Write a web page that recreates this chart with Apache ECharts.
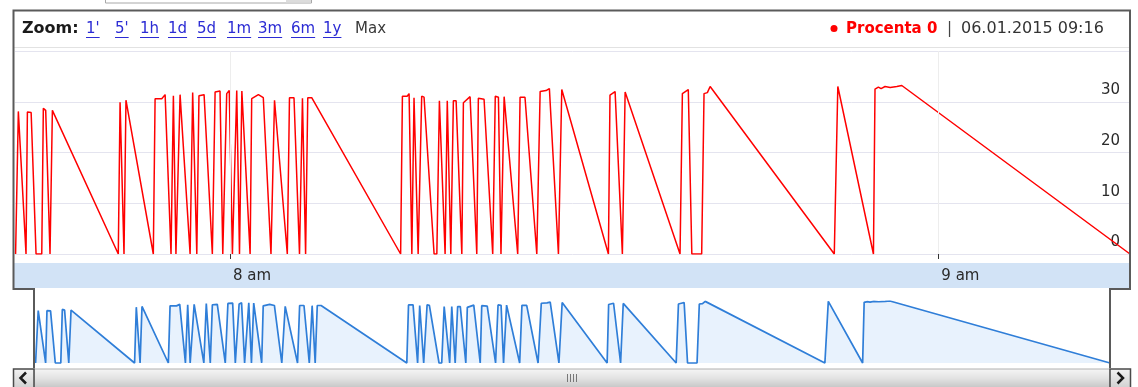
<!DOCTYPE html>
<html><head><meta charset="utf-8">
<script src="https://cdn.jsdelivr.net/npm/echarts@6/dist/echarts.min.js"></script>
<style>html,body{margin:0;padding:0;background:#fff;overflow:hidden}#c{width:1138px;height:387px}</style>
</head><body><div id="c"></div>
<script>
// ---- data ----
const times = ['07:41:50','07:42:04','07:42:43','07:42:50','07:43:09','07:43:34','07:44:03','07:44:11','07:44:23','07:44:45',
'07:44:57','07:45:07','07:50:32','07:50:41','07:51:01','07:51:11','07:53:30','07:53:39','07:54:13','07:54:30',
'07:54:38','07:55:00','07:55:12','07:55:25','07:55:46','07:56:37','07:56:50','07:57:11','07:57:22','07:57:48',
'07:58:30','07:58:44','07:59:09','07:59:23','07:59:43','07:59:56','08:00:12','08:00:34','08:00:48','08:01:00',
'08:01:42','08:01:50','08:02:24','08:02:49','08:03:28','08:03:46','08:04:51','08:05:02','08:05:25','08:05:53',
'08:06:08','08:06:24','08:06:35','08:06:55','08:14:27','08:14:36','08:15:00','08:15:10','08:15:24','08:15:35',
'08:15:56','08:16:14','08:16:26','08:17:17','08:17:31','08:17:44','08:18:13','08:18:24','08:18:42','08:18:55',
'08:19:09','08:19:38','08:19:46','08:20:20','08:20:25','08:20:54','08:21:02','08:21:31','08:22:15','08:22:28',
'08:22:44','08:22:57','08:23:13','08:24:22','08:24:34','08:24:59','08:25:59','08:26:16','08:26:46','08:27:03',
'08:27:49','08:28:06','08:32:03','08:32:11','08:32:37','08:33:14','08:33:28','08:38:07','08:38:19','08:38:49',
'08:39:07','08:39:57','08:40:09','08:40:26','08:40:40','08:51:11','08:51:29','08:51:38','08:54:30','08:54:38',
'08:54:55','08:55:09','08:55:29','08:55:55','08:56:29','08:56:54','09:16:14'];
const values = [0,28.1,0,28,27.9,0,0,28.7,28.3,0,
28.3,28.6,0,29.9,0,30.3,0,30.6,30.6,31.4,
31.2,0,31.2,0,31.4,0,31.8,0,31.2,31.4,
0,31.9,32.1,0,31.6,32.2,0,32.2,0,32.1,
0,30.6,31.4,30.8,0,30.3,0,30.8,30.8,0,
30.7,0,30.8,30.8,0,31.1,31.1,31.6,0,30.8,
0,31.1,30.9,0,0,30.2,0,30.2,0,30.2,
30.2,0,29.8,31,30.8,0,30.7,30.5,0,31.1,
30.9,0,31.0,0,30.9,30.9,0,32.0,32.2,32.6,
0,32.4,0,31.3,32.0,0,31.9,0,31.6,32.4,
0,0,31.6,31.8,33.0,0,33.0,32.7,0,32.5,
32.9,32.6,33.0,32.8,33.0,33.2,0];
const xRange = ['07:41:47', '09:16:14'];
const xTickTimes = ['08:00:00', '09:00:00'];
const xTickLabels = ['8 am', '9 am'];
const yMin = 0, yMax = 40, yStep = 10;
const zoomLabel = 'Zoom:';
const zoomButtons = ["1'", "5'", '1h', '1d', '5d', '1m', '3m', '6m', '1y', 'Max'];
const seriesName = 'Procenta';
const legendValue = '0';
const legendDate = '06.01.2015 09:16';

// ---- helpers: time of day -> seconds since midnight ----
function ts(t) { const p = t.split(':').map(Number); return p[0] * 3600 + p[1] * 60 + p[2]; }
const data = times.map((t, i) => [ts(t), values[i]]);
const tickVals = xTickTimes.map(ts);
const FONT = '"DejaVu Sans", Verdana, sans-serif';
const mctx = document.createElement('canvas').getContext('2d');
function tw(text, font) { mctx.font = font; return mctx.measureText(text).width; }

const chart = echarts.init(document.getElementById('c'), null, { renderer: 'canvas' });

// ---- decorations (frame, toolbar, scrollbar) ----
const g = [];
g.push({ type: 'rect', shape: { x: 105.5, y: -6, width: 206, height: 9 }, style: { fill: '#fff', stroke: '#a8a8a8', lineWidth: 1 }, z: 50 });
g.push({ type: 'rect', shape: { x: 286, y: -6, width: 25, height: 8.5 }, style: { fill: '#dcdcdc' }, z: 51 });
g.push({ type: 'rect', shape: { x: 14, y: 263, width: 1116, height: 25 }, style: { fill: '#d2e3f6' }, z: -10 });
g.push({ type: 'line', shape: { x1: 14, y1: 47.5, x2: 1130, y2: 47.5 }, style: { stroke: '#e2e2e2', lineWidth: 1 }, z: 50 });
const fBold = 'bold 15px ' + FONT, fReg = '15px ' + FONT;
g.push({ type: 'text', style: { x: 22, y: 29, text: zoomLabel, font: 'bold 16px ' + FONT, fill: '#1a1a1a', verticalAlign: 'middle', textVerticalAlign: 'middle' }, z: 60 });
const btnX = [86, 115, 140, 168, 197, 227, 258, 291, 323, 355];
zoomButtons.forEach((b, i) => {
  const isLink = i < zoomButtons.length - 1;
  g.push({ type: 'text', style: { x: btnX[i], y: 29, text: b, font: fReg, fill: isLink ? '#2b2bd4' : '#3a3a3a', verticalAlign: 'middle', textVerticalAlign: 'middle' }, z: 60 });
  if (isLink) {
    const w = tw(b, fReg);
    g.push({ type: 'line', shape: { x1: btnX[i], y1: 37.5, x2: btnX[i] + w, y2: 37.5 }, style: { stroke: '#2b2bd4', lineWidth: 1 }, z: 60 });
  }
});
g.push({ type: 'circle', shape: { cx: 834, cy: 28.5, r: 3.5 }, style: { fill: '#ff0000' }, z: 60 });
g.push({ type: 'text', style: { x: 846, y: 29, text: seriesName + ' ' + legendValue, font: fBold, fill: '#ff0000', verticalAlign: 'middle', textVerticalAlign: 'middle' }, z: 60 });
g.push({ type: 'text', style: { x: 947, y: 29, text: '|', font: fReg, fill: '#444', verticalAlign: 'middle', textVerticalAlign: 'middle' }, z: 60 });
g.push({ type: 'text', style: { x: 961, y: 29, text: legendDate, font: '16px ' + FONT, fill: '#333', verticalAlign: 'middle', textVerticalAlign: 'middle' }, z: 60 });
g.push({ type: 'polyline', shape: { points: [[34, 368], [34, 289], [13.5, 289], [13.5, 10.5], [1130, 10.5], [1130, 289], [1110, 289], [1110, 368]] }, style: { stroke: '#5a5a5a', lineWidth: 2, fill: null }, z: 70 });
const grad = new echarts.graphic.LinearGradient(0, 0, 0, 1, [{ offset: 0, color: '#f6f6f6' }, { offset: 0.5, color: '#e2e2e2' }, { offset: 1, color: '#c4c4c4' }]);
g.push({ type: 'rect', shape: { x: 34, y: 369, width: 1076, height: 19 }, style: { fill: grad, stroke: '#b0b0b0', lineWidth: 1 }, z: 60 });
[[13.5, 369, 20.5], [1110, 369, 20.5]].forEach(b => {
  g.push({ type: 'rect', shape: { x: b[0], y: b[1], width: b[2], height: 19 }, style: { fill: new echarts.graphic.LinearGradient(0, 0, 0, 1, [{ offset: 0, color: '#f4f4f4' }, { offset: 1, color: '#cfcfcf' }]), stroke: '#4a4a4a', lineWidth: 1.5 }, z: 61 });
});
g.push({ type: 'polyline', shape: { points: [[26, 372.5], [20.5, 378], [26, 383.5]] }, style: { stroke: '#1a1a1a', lineWidth: 2.5, fill: null }, z: 62 });
g.push({ type: 'polyline', shape: { points: [[1117.5, 372.5], [1123, 378], [1117.5, 383.5]] }, style: { stroke: '#1a1a1a', lineWidth: 2.5, fill: null }, z: 62 });
[567.5, 570.5, 573.5, 576.5].forEach(x => g.push({ type: 'line', shape: { x1: x, y1: 374, x2: x, y2: 382 }, style: { stroke: '#777', lineWidth: 1 }, z: 62 }));

const option = {
  animation: false,
  backgroundColor: '#fff',
  grid: [
    { left: 15, right: 8, top: 51, bottom: 133 },
    { left: 35, right: 28, top: 301, height: 66 }
  ],
  xAxis: [
    {
      type: 'value', gridIndex: 0, min: ts(xRange[0]), max: ts(xRange[1]), offset: 4,
      axisLine: { show: false },
      axisTick: { show: true, customValues: tickVals, length: 5, lineStyle: { color: '#333', width: 1 } },
      axisLabel: {
        customValues: tickVals, align: 'left', margin: 11, padding: [0, 0, 0, 3],
        fontSize: 15, fontFamily: FONT, color: '#2a2a2a',
        formatter: v => { const i = tickVals.indexOf(v); return i >= 0 ? xTickLabels[i] : ''; }
      },
      splitLine: { show: false }
    },
    { type: 'value', gridIndex: 1, min: ts(xRange[0]), max: ts(xRange[1]), show: false }
  ],
  yAxis: [
    {
      type: 'value', gridIndex: 0, position: 'right', min: yMin, max: yMax, interval: yStep,
      axisLine: { show: false }, axisTick: { show: false },
      splitLine: { lineStyle: { color: '#e4e4ef', width: 1 } },
      axisLabel: {
        inside: true, margin: 10, verticalAlign: 'bottom', padding: [0, 0, 4, 0],
        fontSize: 15, fontFamily: FONT, color: '#2a2a2a', showMaxLabel: false,
        formatter: v => (v === yMax ? '' : String(v))
      }
    },
    { type: 'value', gridIndex: 1, min: -2.15, max: 'dataMax', show: false }
  ],
  series: [
    {
      type: 'line', xAxisIndex: 0, yAxisIndex: 0, data: [], z: 1, silent: true,
      markLine: {
        silent: true, symbol: ['none', 'none'], label: { show: false },
        lineStyle: { color: '#ededed', type: 'solid', width: 1 },
        data: tickVals.map(v => ({ xAxis: v }))
      }
    },
    {
      name: seriesName, type: 'line', xAxisIndex: 0, yAxisIndex: 0, data: data, z: 3,
      showSymbol: false, symbol: 'none', lineStyle: { color: '#ff0000', width: 1.5 }
    },
    {
      type: 'line', xAxisIndex: 1, yAxisIndex: 1, data: data, z: 3,
      showSymbol: false, symbol: 'none', lineStyle: { color: '#2f7ed8', width: 1.7 },
      areaStyle: { color: '#e8f2fd', opacity: 1 }
    }
  ],
  graphic: g
};
chart.setOption(option);
</script></body></html>
